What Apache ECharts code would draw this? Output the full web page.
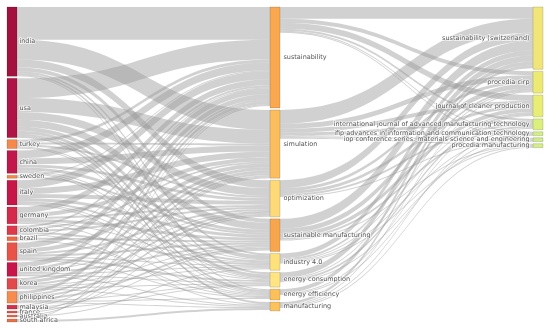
<!DOCTYPE html>
<html>
<head>
<meta charset="utf-8">
<script src="https://cdn.jsdelivr.net/npm/echarts@6/dist/echarts.min.js"></script>
<style>html,body{margin:0;padding:0;background:#fff;}#c{width:550px;height:329px;}</style>
</head>
<body>
<div id="c"></div>
<script>
var countries = ['india','usa','turkey','china','sweden','italy','germany','colombia','brazil','spain','united kingdom','korea','philippines','malaysia','france','australia','south africa'];
var keywords = ['sustainability','simulation','optimization','sustainable manufacturing','industry 4.0','energy consumption','energy efficiency','manufacturing'];
var journals = ['sustainability (switzerland)','procedia cirp','journal of cleaner production','international journal of advanced manufacturing technology','ifip advances in information and communication technology','iop conference series: materials science and engineering','procedia manufacturing'];

// node totals read from node heights
var keywordTotals = [102,69,37,33,17,15,11,9];
var journalTotals = [63,22,22,11,4,4,4];

// country -> keyword (rows: countries, cols: keywords)
var countryKeyword = [
  [33,20,8,4,2,2,1,0],
  [20,14,8,7,4,3,2,2],
  [3,2,2,0,0,1,1,0],
  [8,6,3,3,1,1,1,0],
  [1,0,0,2,0,0,0,0],
  [8,6,4,3,2,1,1,0],
  [6,4,2,3,1,0,1,0],
  [2,2,2,0,2,0,0,1],
  [1,0,0,2,0,0,1,0],
  [6,4,2,2,1,2,1,0],
  [5,3,1,2,1,1,0,1],
  [2,3,2,1,1,1,0,1],
  [3,2,2,2,0,1,1,1],
  [1,1,0,1,0,1,0,0],
  [0,1,1,0,0,0,0,0],
  [0,1,0,0,1,0,0,0],
  [1,0,0,0,0,0,0,2]
];
// keyword -> journal (rows: keywords, cols: journals)
var keywordJournal = [
  [12,4,6,2,1,1,0],
  [14,5,4,3,1,1,1],
  [8,3,3,2,0,1,0],
  [10,5,4,2,0,0,1],
  [5,2,1,0,1,0,1],
  [6,1,2,0,0,1,0],
  [4,0,1,0,1,0,0],
  [3,1,0,1,0,0,1]
];

// styles
var countryColors = ['#A3123F','#AE1446','#F5894B','#C2174A','#F08A45','#C71748','#D42A4B','#DD3A4B','#EE6A42','#E95449','#C9164A','#E3484D','#F68C4D','#D4304B','#E05548','#E76A45','#EA7245'];
var keywordColors = ['#F9A84F','#FBBE5E','#FDD978','#F8A64E','#FDE17C','#FEE483','#FBC05A','#FBC35E'];
var journalColors = ['#F2E577','#EDEA72','#E8ED74','#DBF07A','#D4EE85','#CDEB8C','#D5ED86'];

var nodes = [];
countries.forEach(function(n,i){ nodes.push({name:n, itemStyle:{color:countryColors[i]}, label:{position:'right', distance:2}}); });
keywords.forEach(function(n,i){ nodes.push({name:n, value:keywordTotals[i], itemStyle:{color:keywordColors[i]}, label:{position:'right', distance:3}}); });
journals.forEach(function(n,i){ nodes.push({name:n, value:journalTotals[i], itemStyle:{color:journalColors[i]}, label:{position:'left', distance:3}}); });

var links = [];
countryKeyword.forEach(function(row,i){ row.forEach(function(v,j){ if(v>0) links.push({source:countries[i], target:keywords[j], value:v}); }); });
keywordJournal.forEach(function(row,i){ row.forEach(function(v,j){ if(v>0) links.push({source:keywords[i], target:journals[j], value:v}); }); });

var chart = echarts.init(document.getElementById('c'), null, {renderer:'canvas'});
chart.setOption({
  animation:false,
  series:[{
    type:'sankey',
    left:7, right:7, top:7, bottom:7,
    nodeWidth:10,
    nodeGap:2,
    layoutIterations:0,
    draggable:false,
    emphasis:{disabled:true},
    data:nodes,
    links:links,
    itemStyle:{borderColor:'rgba(0,0,0,0.18)', borderWidth:0.8},
    lineStyle:{color:'#999', opacity:0.45, curveness:0.5},
    label:{fontFamily:'DejaVu Sans', fontSize:6.5, color:'#555', textBorderColor:'rgba(255,255,255,0.8)', textBorderWidth:1.5}
  }]
});
</script>
</body>
</html>
